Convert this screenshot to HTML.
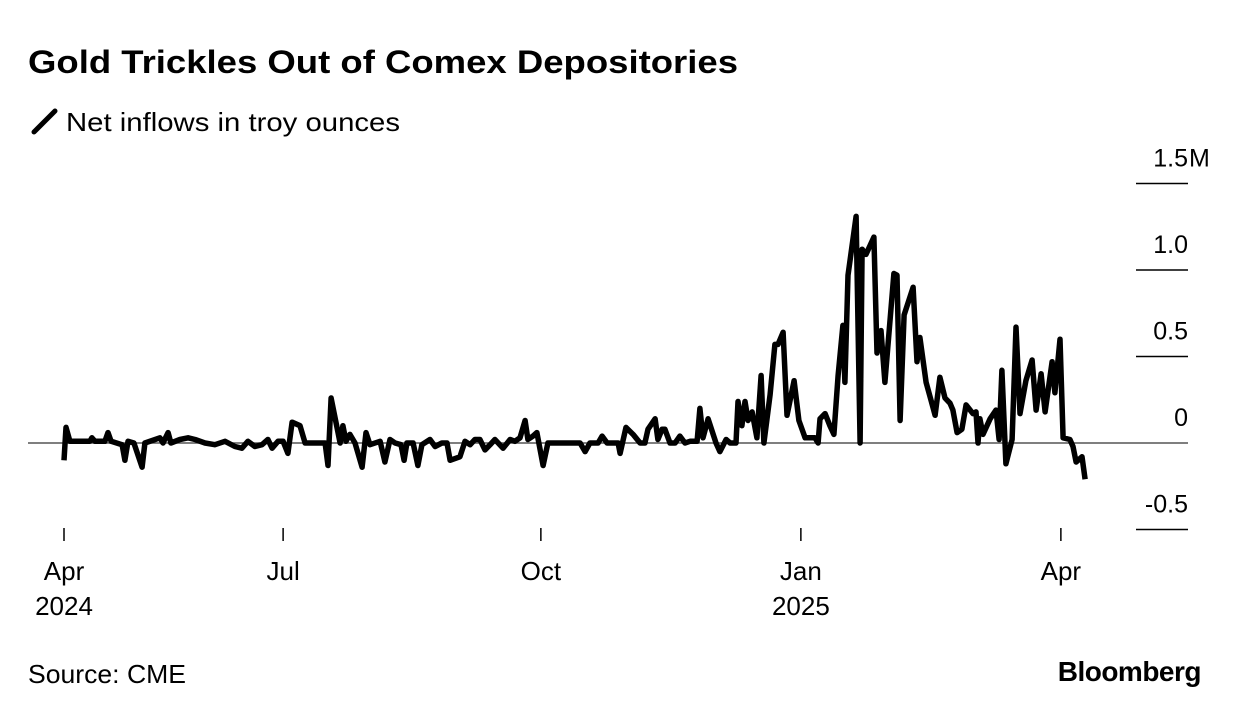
<!DOCTYPE html>
<html><head><meta charset="utf-8"><style>
body{margin:0;background:#fff;width:1240px;height:716px;overflow:hidden;font-family:"Liberation Sans",sans-serif;}
</style></head><body>
<svg id="chart" width="1240" height="716" xmlns="http://www.w3.org/2000/svg" font-family="Liberation Sans, sans-serif">
<text x="28" y="73" font-size="32" font-weight="bold" fill="#000" textLength="710" lengthAdjust="spacingAndGlyphs">Gold Trickles Out of Comex Depositories</text>
<line x1="34" y1="132" x2="55" y2="111" stroke="#000" stroke-width="5" stroke-linecap="round"/>
<text x="66" y="131" font-size="26" fill="#000" textLength="334" lengthAdjust="spacingAndGlyphs">Net inflows in troy ounces</text>
<g id="grid"></g><g id="xaxis"></g>
<path id="line" fill="none" stroke="#000" stroke-width="5.5" stroke-linejoin="round"/>
<text x="28" y="683" font-size="26" fill="#000" textLength="158" lengthAdjust="spacingAndGlyphs">Source: CME</text>
<text x="1201" y="681" font-size="28" font-weight="bold" text-anchor="end" fill="#000" letter-spacing="-0.5">Bloomberg</text>
</svg>
<script>
const days=[0,0.7,2.1,9.2,9.9,11,14.5,15.6,16.7,20.6,21.6,22.7,24.8,27.7,28.7,32.3,34,35.1,36.9,37.9,41.1,44,46.5,50,53.5,57.1,60.6,63.1,65.2,67.7,70.2,72.3,73.8,75.9,77.7,79.4,80.9,83.7,85.5,92.6,93.6,94.7,96.8,97.9,98.9,100,101.4,103.2,105.7,107.1,108.5,112.1,113.8,115.6,117.4,119.5,120.6,121.6,123.8,125.5,126.9,129.8,131.6,134,135.8,136.9,140.4,142.2,144,145.7,147.5,149.3,151.1,152.8,155.7,158.2,159.9,161.7,163.5,164.5,166.3,167.7,169.9,171.6,183,184.8,186.5,189.4,190.8,192.6,196.5,197.2,199.3,201.8,204.3,206,207.1,209.6,210.6,212.1,213.1,214.9,216.7,218.4,220.2,222,224.5,225.5,226.6,228.4,231.2,232.6,234.8,236.2,238.3,239,240.4,241.5,242.6,244,245.7,247.2,248.2,250.4,252.1,253.2,255,256.4,258.9,260.6,262.8,264.5,266.3,267.4,268.1,269.9,271.6,273,274.5,276.2,276.9,278,280.9,282.3,283,284.4,287.2,288.3,289.7,291.1,294.3,295.4,296.5,297.9,301.1,302.5,303.5,305.7,307.4,308.9,310.6,312.4,314.2,315.2,316.7,318.4,319.9,322.3,323.4,324.1,324.8,325.9,328.4,330.5,331.6,332.6,334,336.2,337.6,339,341.1,343.3,344.7,346.5,347.9,350.4,351.4,353.2,354.3,356.7,357.8,358.9,361,362.1];
const values=[-0.10,0.09,0.01,0.01,0.03,0.01,0.01,0.06,0.01,-0.01,-0.10,0.01,0,-0.14,0,0.02,0.03,0,0.06,0,0.02,0.03,0.02,0,-0.01,0.01,-0.02,-0.03,0.01,-0.02,-0.01,0.02,-0.03,0.01,0.01,-0.06,0.12,0.10,0,0,-0.13,0.26,0.09,0,0.10,0.01,0.05,0,-0.14,0.06,-0.01,0.01,-0.11,0.02,0,-0.01,-0.10,0,0,-0.13,-0.01,0.02,-0.02,0,0,-0.10,-0.08,0.01,-0.01,0.02,0.02,-0.04,-0.01,0.02,-0.03,0.02,0.01,0.03,0.13,0.02,0.04,0.06,-0.13,0,0,-0.05,0,0,0.04,0,0,-0.06,0.09,0.05,0,0,0.08,0.14,0.02,0.08,0.08,0,0,0.04,0,0.01,0.01,0.20,0.03,0.14,0,-0.05,0.02,0,0,0.24,0.10,0.24,0.13,0.18,0.03,0.39,0,0.28,0.57,0.57,0.64,0.16,0.36,0.13,0.03,0.03,0.03,0,0.14,0.17,0.10,0.05,0.39,0.68,0.35,0.97,1.31,0,1.12,1.09,1.19,0.52,0.65,0.35,0.98,0.97,0.13,0.74,0.90,0.47,0.61,0.35,0.25,0.16,0.38,0.26,0.23,0.19,0.06,0.08,0.22,0.17,0.18,0,0.14,0.05,0.14,0.19,0.02,0.42,-0.12,0.02,0.67,0.17,0.36,0.48,0.19,0.40,0.18,0.47,0.29,0.60,0.03,0.02,-0.02,-0.11,-0.08,-0.21];
const yTicks=[1.5,1.0,0.5,0,-0.5];
const yTickLabels=["1.5","1.0","0.5","0","-0.5"];
const yTickSuffix=["M","","","",""];
const xTickDays=[0,77.7,169.1,261.3,353.5];
const xTickMonths=["Apr","Jul","Oct","Jan","Apr"];
const xTickYears=["2024","","","2025",""];

const X=d=>64+d*2.82, Y=v=>443-v*173;
const NS="http://www.w3.org/2000/svg";
function mk(tag,attrs,parent,txt){const e=document.createElementNS(NS,tag);for(const k in attrs)e.setAttribute(k,attrs[k]);if(txt!==undefined)e.textContent=txt;parent.appendChild(e);return e;}
const grid=document.getElementById('grid'), xa=document.getElementById('xaxis');
yTicks.forEach((v,i)=>{
  const zero=v===0;
  const l=mk('line',{x1:zero?28:1136,x2:1188,y1:Y(v),y2:Y(v),stroke:zero?'#555':'#000','stroke-width':1.5},grid);
  
  
  const t=mk('text',{x:1188,y:Y(v)-17,'font-size':25,'text-anchor':'end',fill:'#000'},grid,yTickLabels[i]);
  
  
  if(yTickSuffix[i]){
    const s=mk('text',{x:1189,y:Y(v)-17,'font-size':25,fill:'#000'},grid,yTickSuffix[i]);
    
    
  }
});
xTickDays.forEach((d,i)=>{
  const l=mk('line',{x1:X(d),x2:X(d),y1:528,y2:541,stroke:'#000','stroke-width':1.5},xa);
  
  
  const t=mk('text',{x:X(d),y:580,'font-size':26,'text-anchor':'middle',fill:'#000'},xa,xTickMonths[i]);
  
  
  if(xTickYears[i]){
    const ty=mk('text',{x:X(d),y:615,'font-size':26,'text-anchor':'middle',fill:'#000'},xa,xTickYears[i]);
    
    
  }
});
document.getElementById('line').setAttribute('d',days.map((d,i)=>(i?'L':'M')+X(d).toFixed(1)+','+Y(values[i]).toFixed(1)).join(''));
</script>
</body></html>
